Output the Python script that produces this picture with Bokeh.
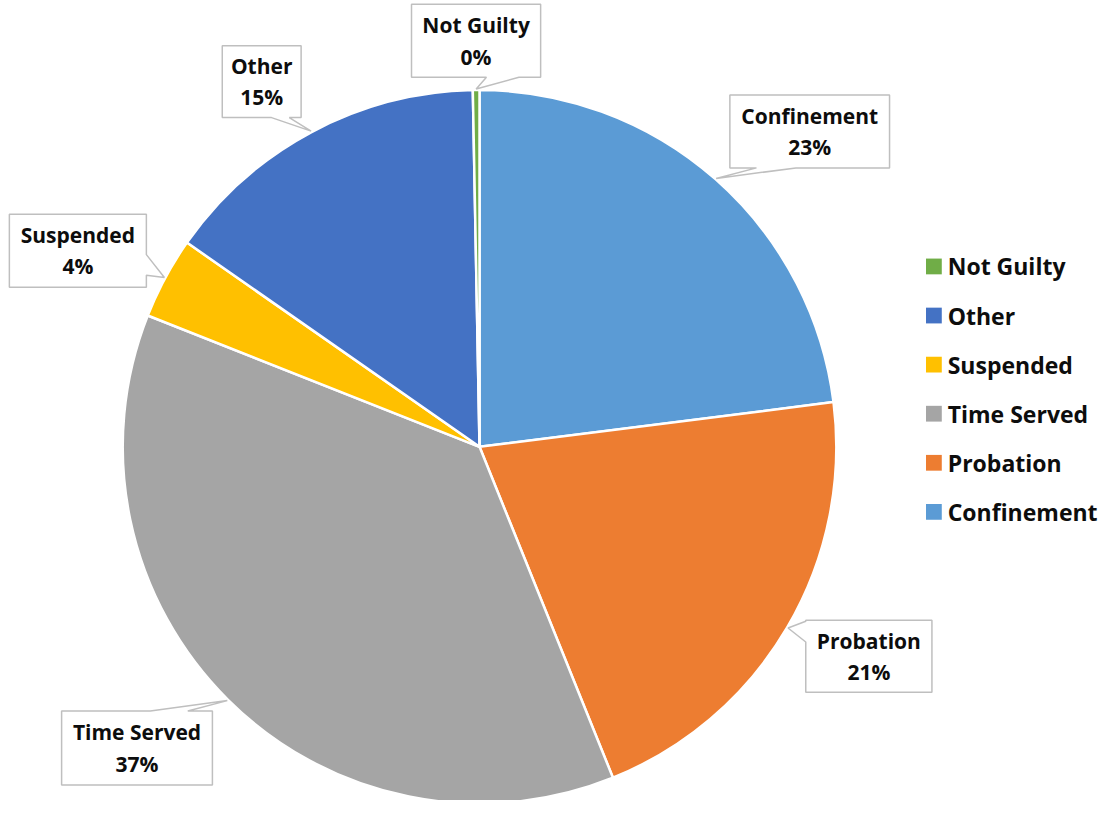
import math
from bokeh.plotting import figure
from bokeh.models import Range1d
from bokeh.core.properties import value
from bokeh.embed import file_html
from bokeh.resources import INLINE

# ---- data (clockwise from 12 o'clock) ----
categories = ["Confinement", "Probation", "Time Served", "Suspended", "Other", "Not Guilty"]
shares = [23.0, 20.9, 37.1, 3.7, 15.0, 0.3]
pct_labels = ["23%", "21%", "37%", "4%", "15%", "0%"]
colors = ["#5B9BD5", "#ED7D31", "#A5A5A5", "#FFC000", "#4472C4", "#70AD47"]
legend_order = ["Not Guilty", "Other", "Suspended", "Time Served", "Probation", "Confinement"]

# ---- layout (reference pixel space, y downwards) ----
W_REF, H_REF = 1114, 816
CX, CY, R = 486, 455, 362
FONT = "Open Sans"
FS = "21px"
FS_LEG = "23px"

# callout boxes: left, right, top, bottom, side of pointer, pointer base (a, b)
callouts = {
    "Not Guilty": (417, 548, 6, 80, "bottom", 493, 526),
    "Confinement": (740, 902, 98, 172, "bottom", 767, 807),
    "Probation": (817, 945, 631, 704, "left", 632, 653),
    "Time Served": (62, 215, 723, 798, "top", 152, 190),
    "Suspended": (9, 148, 219, 293, "right", 260, 281),
    "Other": (225, 305, 48, 121, "bottom", 275, 293),
}

W, H = 1098, 800
scale = W / W_REF
yspan = H / scale
pad = (yspan - H_REF) / 2.0

p = figure(width=W, height=H, output_backend="svg", toolbar_location=None,
           x_range=Range1d(0, W_REF), y_range=Range1d(-pad, H_REF + pad))
p.axis.visible = False
p.grid.visible = False
p.outline_line_color = None
p.min_border = 0
p.background_fill_color = "white"
p.border_fill_color = "white"


def Y(y):
    return H_REF - y


# ---- wedges ----
total = sum(shares)
cum = 0.0
starts, ends, mids = [], [], []
for s in shares:
    t1 = cum / total * 2 * math.pi
    cum += s
    t2 = cum / total * 2 * math.pi
    starts.append(math.pi / 2 - t2)
    ends.append(math.pi / 2 - t1)
    mids.append((t1 + t2) / 2)

p.wedge(x=[CX] * len(shares), y=[Y(CY)] * len(shares), radius=R,
        start_angle=starts, end_angle=ends, fill_color=colors,
        line_color="white", line_width=2.5)

# ---- callouts ----
xs, ys = [], []
for cat, mid in zip(categories, mids):
    l, r, t, b, side, a1, a2 = callouts[cat]
    tx = CX + (R + 1) * math.sin(mid)
    ty = CY - (R + 1) * math.cos(mid)
    if side == "bottom":
        pts = [(l, t), (r, t), (r, b), (a2, b), (tx, ty), (a1, b), (l, b)]
    elif side == "top":
        pts = [(l, t), (a1, t), (tx, ty), (a2, t), (r, t), (r, b), (l, b)]
    elif side == "left":
        pts = [(l, t), (r, t), (r, b), (l, b), (l, a2), (tx, ty), (l, a1)]
    else:
        pts = [(l, t), (r, t), (r, a1), (tx, ty), (r, a2), (r, b), (l, b)]
    xs.append([q[0] for q in pts])
    ys.append([Y(q[1]) for q in pts])

p.patches(xs=xs, ys=ys, fill_color="white", line_color="#BFBFBF", line_width=1.5)

lx, ly1, ly2 = [], [], []
for cat in categories:
    l, r, t, b, *_ = callouts[cat]
    lx.append((l + r) / 2)
    cy = (t + b) / 2
    ly1.append(Y(cy - 16))
    ly2.append(Y(cy + 16))

p.text(x=lx, y=ly1, text=categories, text_font=value(FONT), text_font_style="bold",
       text_font_size=FS, text_align="center", text_baseline="middle", text_color="#0D0D0D")
p.text(x=lx, y=ly2, text=pct_labels, text_font=value(FONT), text_font_style="bold",
       text_font_size=FS, text_align="center", text_baseline="middle", text_color="#0D0D0D")

# ---- legend ----
cmap = dict(zip(categories, colors))
leg_y = [Y(272 + i * 49.8) for i in range(len(legend_order))]
p.rect(x=[947] * len(legend_order), y=leg_y, width=16, height=16,
       fill_color=[cmap[c] for c in legend_order], line_color=None)
p.text(x=[961] * len(legend_order), y=leg_y, text=legend_order, text_font=value(FONT),
       text_font_style="bold", text_font_size=FS_LEG, text_align="left",
       text_baseline="middle", text_color="#0D0D0D")

open("out.html", "w").write(file_html(p, INLINE))
